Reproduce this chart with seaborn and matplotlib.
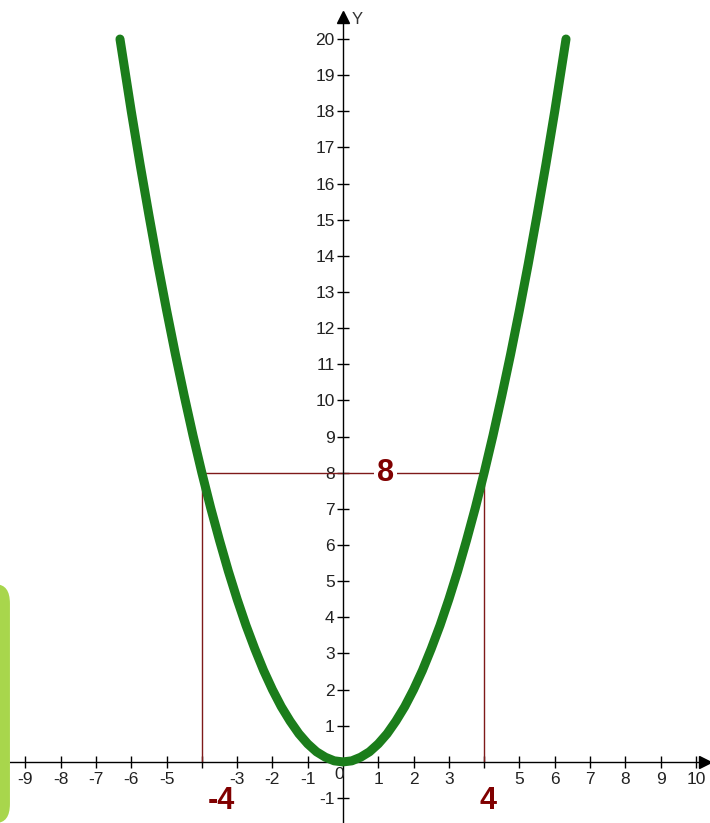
import numpy as np
import matplotlib
matplotlib.use("Agg")
import matplotlib.pyplot as plt
import seaborn as sns
from matplotlib.patches import FancyBboxPatch

# parabola points (y = half of x squared)
curve_x = [-6.32, -6.0, -5.75, -5.5, -5.25, -5.0, -4.75, -4.5, -4.25, -4.0, -3.75, -3.5, -3.25,
           -3.0, -2.75, -2.5, -2.25, -2.0, -1.75, -1.5, -1.25, -1.0, -0.75, -0.5, -0.25, 0.0,
           0.25, 0.5, 0.75, 1.0, 1.25, 1.5, 1.75, 2.0, 2.25, 2.5, 2.75, 3.0, 3.25, 3.5, 3.75,
           4.0, 4.25, 4.5, 4.75, 5.0, 5.25, 5.5, 5.75, 6.0, 6.32]
curve_y = [20.0, 18.0, 16.53, 15.13, 13.78, 12.5, 11.28, 10.13, 9.03, 8.0, 7.03, 6.13, 5.28,
           4.5, 3.78, 3.13, 2.53, 2.0, 1.53, 1.13, 0.78, 0.5, 0.28, 0.13, 0.03, 0.0,
           0.03, 0.13, 0.28, 0.5, 0.78, 1.13, 1.53, 2.0, 2.53, 3.13, 3.78, 4.5, 5.28, 6.13, 7.03,
           8.0, 9.03, 10.13, 11.28, 12.5, 13.78, 15.13, 16.53, 18.0, 20.0]

# marked chord
chord_x = [-4, 4]
chord_y = 8

x_ticks = [-9, -8, -7, -6, -5, -4, -3, -2, -1, 1, 2, 3, 4, 5, 6, 7, 8, 9, 10]
y_ticks = [-1, 1, 2, 3, 4, 5, 6, 7, 8, 9, 10, 11, 12, 13, 14, 15, 16, 17, 18, 19, 20]
hidden_x = [-4, 4]

sns.set_theme(style="white")
plt.rcParams['font.family'] = ['Liberation Sans Narrow', 'Liberation Sans', 'DejaVu Sans']

fig = plt.figure(figsize=(7.1, 8.23), dpi=100)
ax = fig.add_axes([0, 0, 1, 1])
ax.set_xlim(-9.72, 10.40)
ax.set_ylim(-1.69, 21.08)

# axes through origin
for s in ['top', 'right']:
    ax.spines[s].set_visible(False)
ax.spines['left'].set_position(('data', 0))
ax.spines['bottom'].set_position(('data', 0))
ax.spines['left'].set_bounds(-1.69, 20.6)
ax.spines['bottom'].set_bounds(-9.45, 10.2)
for s in ['left', 'bottom']:
    ax.spines[s].set_color('black')
    ax.spines[s].set_linewidth(1.0)
ax.plot(0, 20.6, '^', color='black', markersize=9, clip_on=False)
ax.plot(10.25, 0, '>', color='black', markersize=9, clip_on=False)
ax.text(0.25, 20.55, 'Y', fontsize=12, color='#333333', va='center', ha='left')

ax.set_xticks(x_ticks)
ax.set_xticklabels(['' if t in hidden_x else str(t) for t in x_ticks])
ax.set_yticks(y_ticks)
ax.set_yticklabels([str(t) for t in y_ticks])
ax.tick_params(axis='both', which='major', bottom=True, left=True, direction='inout',
               length=8, width=1, color='black', labelsize=12.5, labelcolor='#222222', pad=3)
ax.tick_params(axis='y', pad=2)
ax.text(-0.12, -0.35, '0', fontsize=12.5, color='#222222', ha='center', va='center')

# chord lines
red = '#7f1a1a'
for xv in chord_x:
    ax.plot([xv, xv], [0, chord_y], color=red, lw=1.0, zorder=2)
ax.plot(chord_x, [chord_y, chord_y], color=red, lw=1.0, zorder=2)

# parabola
sns.lineplot(x=curve_x, y=curve_y, ax=ax, color='#1b7d1b', linewidth=6.5,
             solid_capstyle='round', solid_joinstyle='round', zorder=3)

ax.text(1.2, chord_y, '8', fontsize=22, fontweight='bold', color='#800000',
        ha='center', va='center', zorder=4,
        bbox=dict(facecolor='white', edgecolor='none', pad=2))
ax.text(-3.45, -1.07, '-4', fontsize=22, fontweight='bold', color='#800000',
        ha='center', va='center')
ax.text(4.1, -1.07, '4', fontsize=22, fontweight='bold', color='#800000',
        ha='center', va='center')

# green tab on the left edge
tab = FancyBboxPatch((-0.03, 0.0), 0.044, 0.29, boxstyle='round,pad=0,rounding_size=0.02',
                     transform=fig.transFigure, facecolor='#a8d64c', edgecolor='none',
                     mutation_aspect=1.16)
fig.patches.append(tab)

ax.grid(False)
fig.savefig('out.png', dpi=100)
